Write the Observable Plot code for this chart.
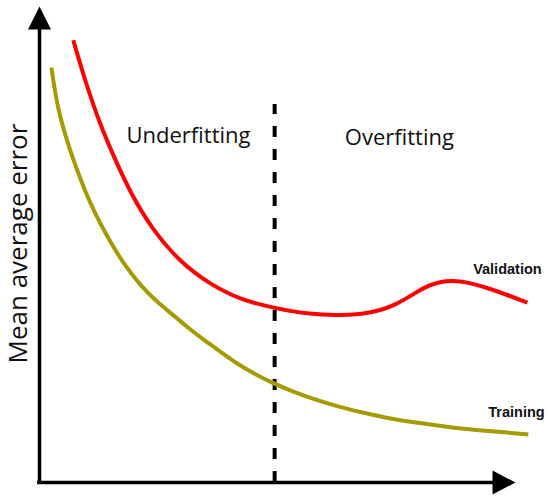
<!DOCTYPE html>
<html>
<head>
<meta charset="utf-8">
<script src="https://cdn.jsdelivr.net/npm/d3@7"></script>
<script src="https://cdn.jsdelivr.net/npm/@observablehq/plot@0.6"></script>
<style>
  html, body { margin: 0; padding: 0; background: #fff; }
  svg { display: block; }
</style>
</head>
<body>
<script>
// Model complexity (x) vs error (y), arbitrary units 0–100
const validationX = [7.1, 9.7, 12.8, 16.0, 19.1, 23.5, 29.6, 35.9, 42.2, 49.4, 56.9, 63.2, 69.5, 74.8, 79.0, 82.1, 85.3, 88.4, 94.1, 102.5];
const validationY = [92.9, 84.0, 75.0, 67.6, 60.9, 53.4, 46.2, 41.6, 38.4, 36.6, 35.3, 35.1, 35.5, 37.2, 39.9, 41.6, 42.4, 42.4, 41.0, 37.8];

const trainingX = [2.5, 3.4, 4.4, 5.9, 7.6, 9.7, 11.8, 13.9, 16.0, 18.1, 21.2, 24.8, 28.2, 31.7, 35.3, 39.1, 42.2, 49.4, 56.3, 63.2, 69.5, 75.8, 82.1, 88.4, 95.8, 102.7];
const trainingY = [87.2, 81.1, 76.5, 71.4, 66.4, 60.9, 56.3, 52.3, 48.7, 45.4, 41.4, 37.8, 35.1, 32.1, 29.4, 26.7, 24.4, 20.6, 17.9, 15.8, 14.3, 13.0, 12.2, 11.3, 10.7, 10.1];

const splitX = [49.4];          // boundary between under- and overfitting
const splitTop = 79.4;
const regionLabels = ["Underfitting", "Overfitting"];
const regionX = [31.3, 75.6];
const regionY = [72.7, 72.3];
const seriesLabels = ["Validation", "Training"];
const seriesLabelX = [98.3, 100.2];
const seriesLabelY = [44.7, 14.7];
const yTitle = "Mean average error";

const validation = validationX.map((x, i) => ({x, y: validationY[i]}));
const training = trainingX.map((x, i) => ({x, y: trainingY[i]}));
const regions = regionLabels.map((t, i) => ({t, x: regionX[i], y: regionY[i]}));
const seriesTexts = seriesLabels.map((t, i) => ({t, x: seriesLabelX[i], y: seriesLabelY[i]}));

const upArrow = {draw(ctx) { ctx.moveTo(0, 0); ctx.lineTo(11.5, 23); ctx.lineTo(-11.5, 23); ctx.closePath(); }};
const rightArrow = {draw(ctx) { ctx.moveTo(0, 0); ctx.lineTo(-23, -12); ctx.lineTo(-23, 12); ctx.closePath(); }};

const chart = Plot.plot({
  width: 550,
  height: 499,
  marginLeft: 39,
  marginRight: 35,
  marginTop: 6,
  marginBottom: 17,
  x: {domain: [0, 100], axis: null},
  y: {domain: [0, 100], axis: null},
  style: {fontFamily: "'Open Sans', sans-serif", background: "#fff"},
  marks: [
    Plot.ruleX([0], {y1: 0, y2: 96, stroke: "#000", strokeWidth: 3.5}),
    Plot.ruleY([0], {x1: -0.4, x2: 96, stroke: "#000", strokeWidth: 3.5}),
    Plot.dot([{x: 0, y: 100}], {x: "x", y: "y", symbol: upArrow, fill: "#000", stroke: "none", r: 5}),
    Plot.dot([{x: 100, y: 0}], {x: "x", y: "y", symbol: rightArrow, fill: "#000", stroke: "none", r: 5}),
    Plot.ruleX(splitX, {y1: 0, y2: splitTop, stroke: "#000", strokeWidth: 4, strokeDasharray: "11,12"}),
    Plot.line(training, {x: "x", y: "y", stroke: "#a39b00", strokeWidth: 4, curve: "basis", strokeLinecap: "butt"}),
    Plot.line(validation, {x: "x", y: "y", stroke: "#ff0000", strokeWidth: 4, curve: "basis", strokeLinecap: "butt"}),
    Plot.text(regions, {x: "x", y: "y", text: "t", fontSize: 22, fill: "#111", textAnchor: "middle", lineAnchor: "middle"}),
    Plot.text(seriesTexts, {x: "x", y: "y", text: "t", fontSize: 14.5, fontWeight: "bold", fill: "#111", textAnchor: "middle", lineAnchor: "middle", fontFamily: "'Liberation Sans', Arial, sans-serif"}),
    Plot.text([yTitle], {x: -4.4, y: 50.2, text: d => d, rotate: -90, fontSize: 26, fill: "#111", textAnchor: "middle", lineAnchor: "middle"})
  ]
});
document.body.appendChild(chart);
</script>
</body>
</html>
